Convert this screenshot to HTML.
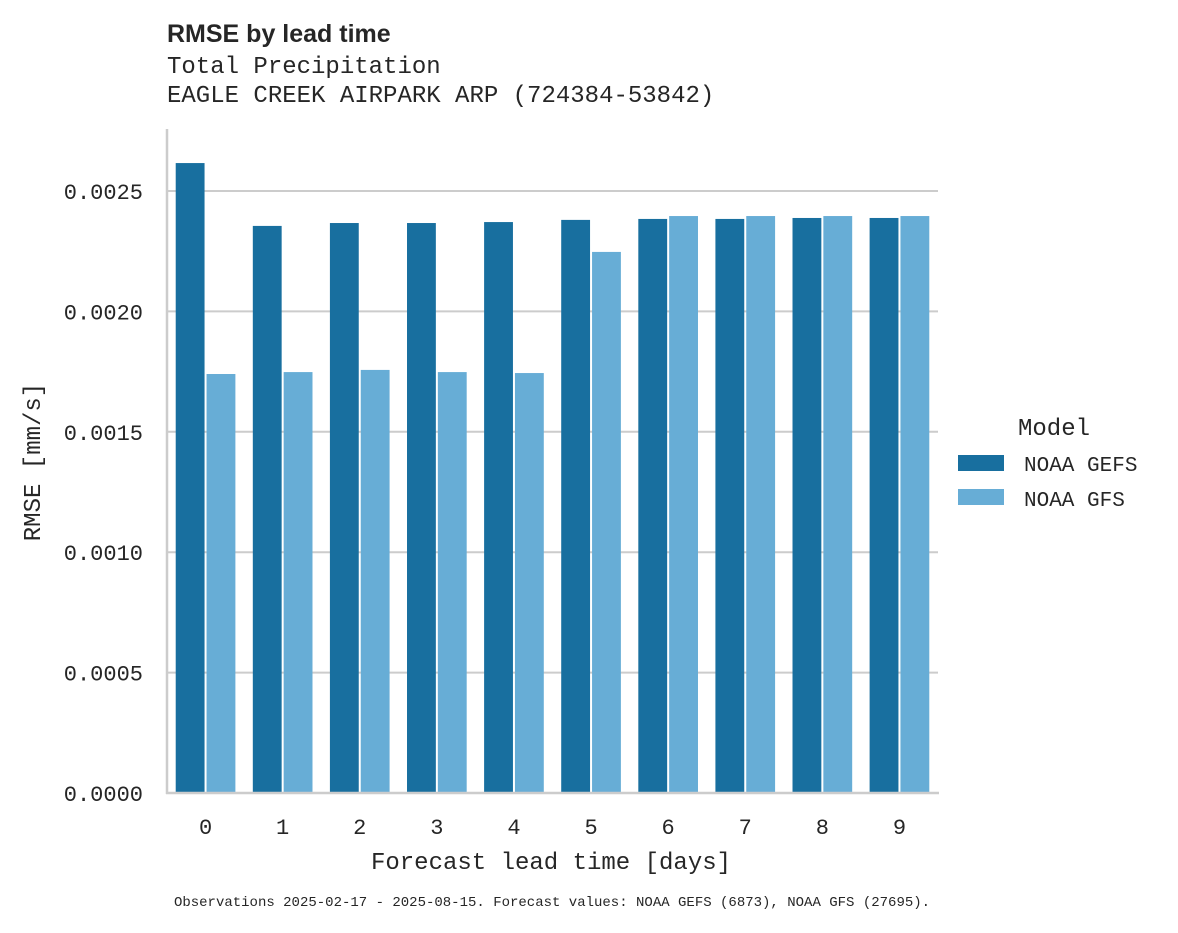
<!DOCTYPE html>
<html><head><meta charset="utf-8"><style>
body{margin:0;background:#fff;}
svg text{font-family:"Liberation Mono",monospace;fill:#262626;}
</style></head><body>
<svg id="chart" width="1178" height="928" xmlns="http://www.w3.org/2000/svg">
<text x="167" y="42" style="font-family:'Liberation Sans',sans-serif;font-weight:bold;font-size:25px">RMSE by lead time</text>
<text x="167" y="73" font-size="24">Total Precipitation</text>
<text x="167" y="102" font-size="24">EAGLE CREEK AIRPARK ARP (724384-53842)</text>
<g id="grid"></g>
<g id="bars"></g>
<line x1="167" y1="129" x2="167" y2="794" stroke="#ccc" stroke-width="2.5"/>
<line x1="166" y1="793" x2="939" y2="793" stroke="#ccc" stroke-width="2.5"/>
<g id="ticks"></g>
<text x="551" y="869" font-size="24" text-anchor="middle">Forecast lead time [days]</text>
<text transform="translate(40,462) rotate(-90)" font-size="24" text-anchor="middle">RMSE [mm/s]</text>
<g>
<text x="1018" y="435" font-size="24">Model</text>
<rect x="958" y="455" width="46" height="16" fill="#186f9f"/>
<text x="1024" y="471" font-size="21">NOAA GEFS</text>
<rect x="958" y="489" width="46" height="16" fill="#67add6"/>
<text x="1024" y="506" font-size="21">NOAA GFS</text>
</g>
<text x="552" y="906" font-size="14" text-anchor="middle">Observations 2025-02-17 - 2025-08-15. Forecast values: NOAA GEFS (6873), NOAA GFS (27695).</text>
</svg>
<script>
const categories=["0","1","2","3","4","5","6","7","8","9"];
const gefs=[0.002616,0.002355,0.002367,0.002367,0.002371,0.00238,0.002384,0.002384,0.002388,0.002388];
const gfs=[0.00174,0.001748,0.001757,0.001748,0.001744,0.002247,0.002396,0.002396,0.002396,0.002396];
const yTicks=[0,0.0005,0.001,0.0015,0.002,0.0025];
const yTickLabels=["0.0000","0.0005","0.0010","0.0015","0.0020","0.0025"];
const NS="http://www.w3.org/2000/svg";
const x0=167,x1=938,y0=793,yTop=191;
function y(v){return y0-(v/0.0025)*(y0-yTop);}
const step=(x1-x0)/categories.length;
function xc(i){return x0+step*(i+0.5);}
const grid=document.getElementById('grid'),bars=document.getElementById('bars'),ticks=document.getElementById('ticks');
yTicks.forEach((t,i)=>{
 if(t>0){const l=document.createElementNS(NS,'line');
 l.setAttribute('x1',x0);l.setAttribute('x2',x1);l.setAttribute('y1',y(t));l.setAttribute('y2',y(t));
 l.setAttribute('stroke','#cccccc');l.setAttribute('stroke-width','2');
 
 
 grid.appendChild(l);}
 const tx=document.createElementNS(NS,'text');
 tx.setAttribute('x',143);tx.setAttribute('y',y(t)+8);tx.setAttribute('text-anchor','end');tx.setAttribute('font-size','22');
 tx.textContent=yTickLabels[i];
 
 
 ticks.appendChild(tx);
});
const bw=step*0.8/2;
categories.forEach((c,i)=>{
 [[gefs,'#186f9f',-1],[gfs,'#67add6',0]].forEach(([arr,col,off])=>{
  const r=document.createElementNS(NS,'rect');
  const v=arr[i];
  r.setAttribute('x',xc(i)+off*bw+1);r.setAttribute('width',bw-2);
  r.setAttribute('y',y(v));r.setAttribute('height',y0-y(v));r.setAttribute('fill',col);
  
  
  bars.appendChild(r);
 });
 const tx=document.createElementNS(NS,'text');
 tx.setAttribute('x',xc(i));tx.setAttribute('y',834);tx.setAttribute('text-anchor','middle');tx.setAttribute('font-size','22');
 tx.textContent=c;
 
 
 ticks.appendChild(tx);
});
</script>
</body></html>
